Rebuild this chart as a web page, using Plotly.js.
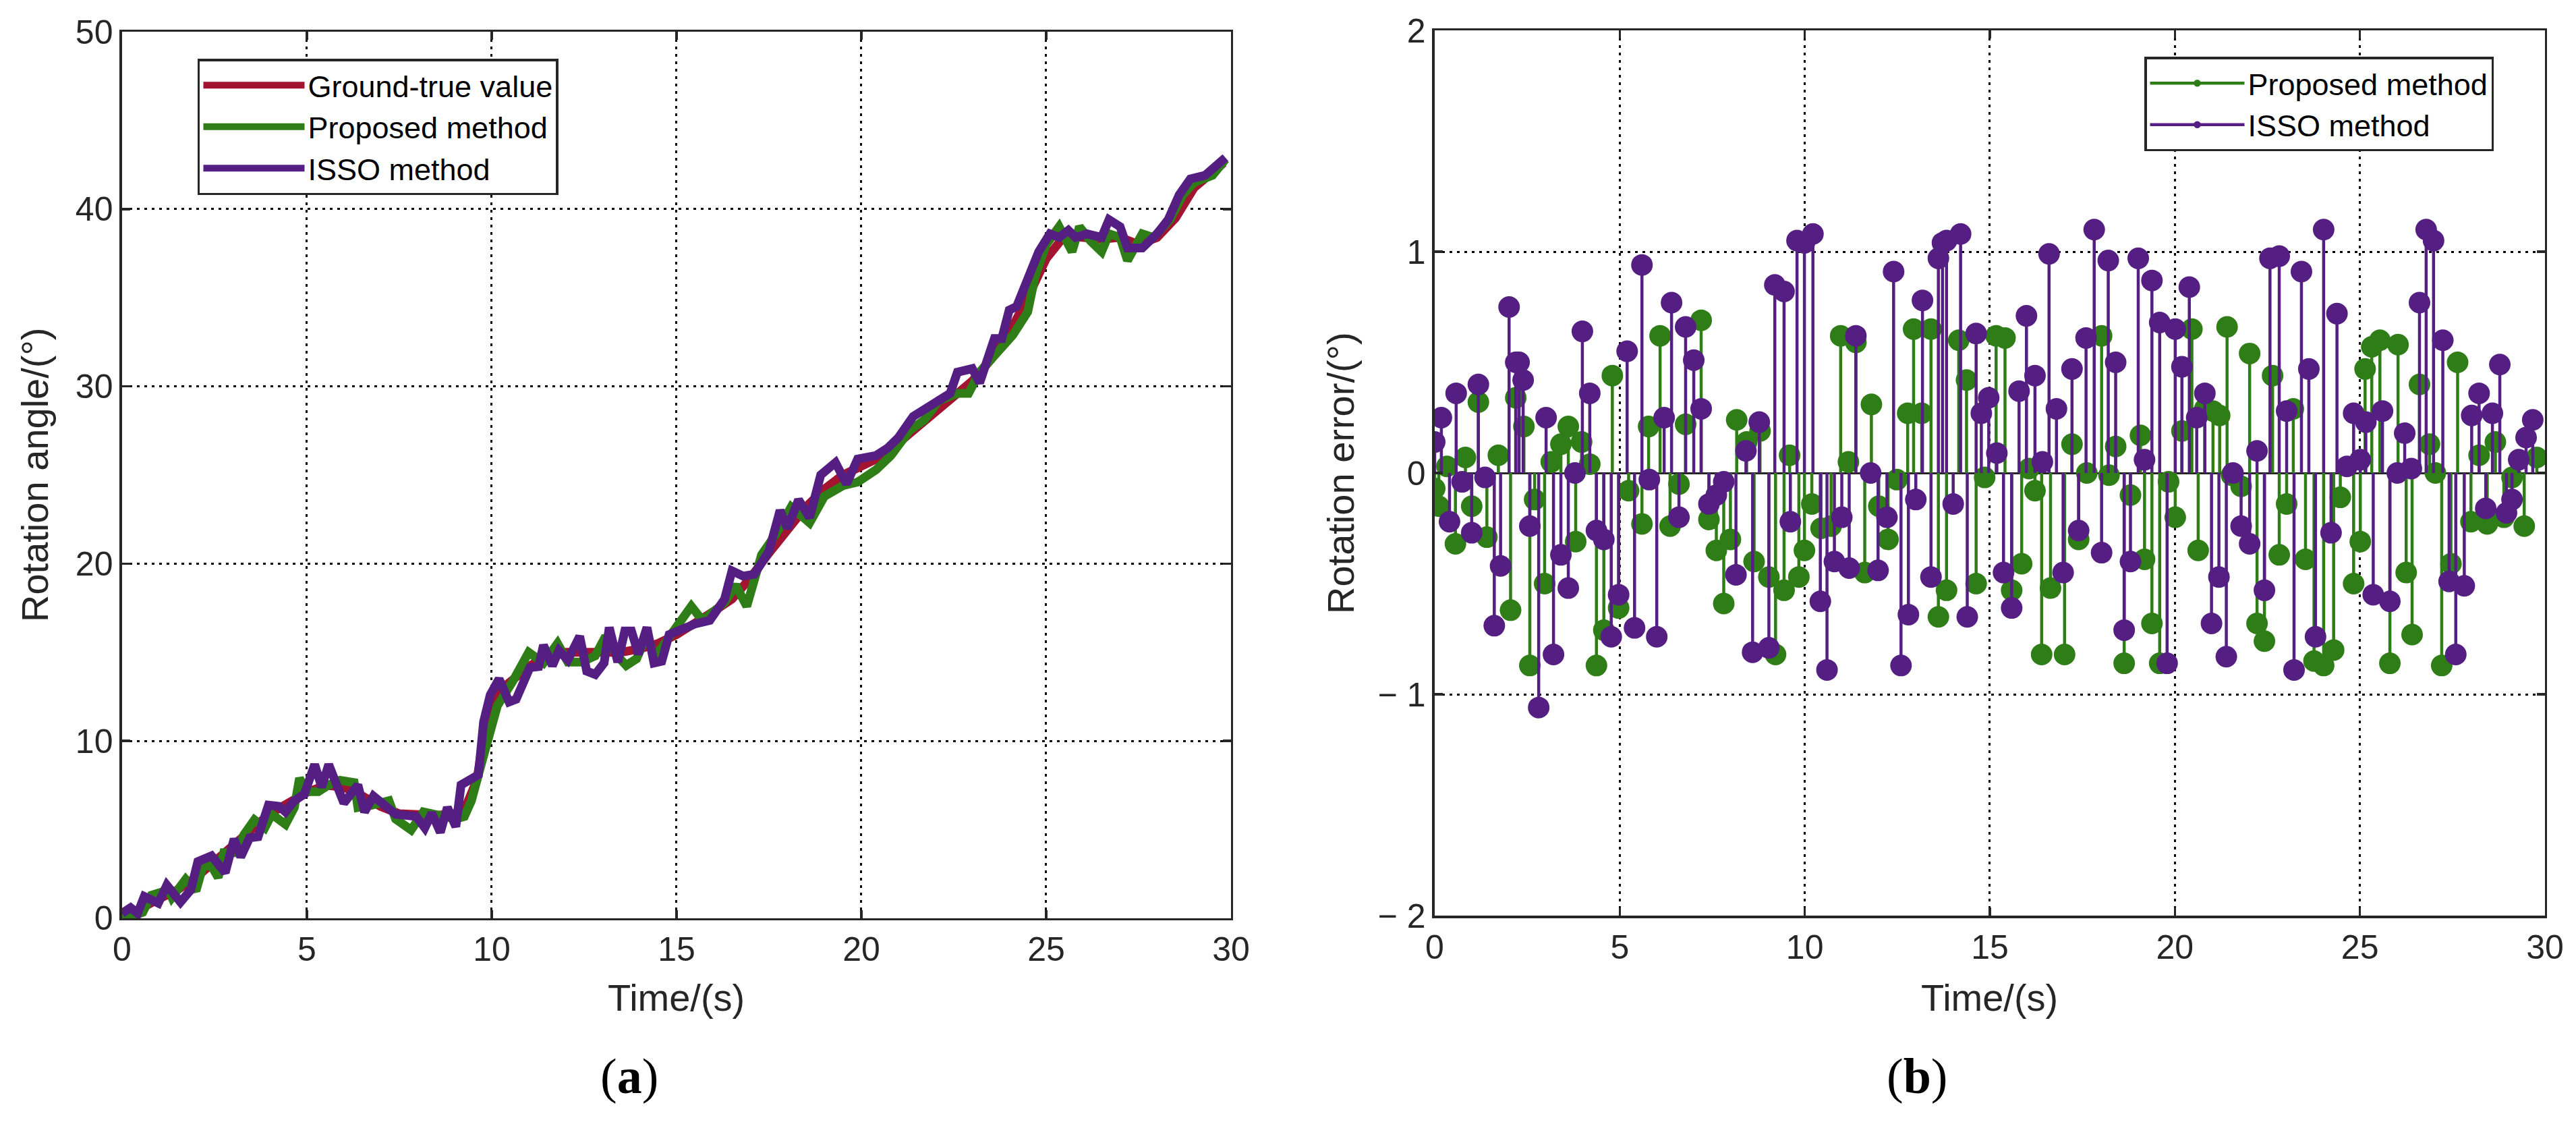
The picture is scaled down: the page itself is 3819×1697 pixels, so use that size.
<!DOCTYPE html>
<html>
<head>
<meta charset="utf-8">
<script src="https://cdn.plot.ly/plotly-3.0.1.min.js"></script>
<style>
  html, body { margin: 0; padding: 0; background: #fff; }
  #chart { width: 3819px; height: 1697px; }
</style>
</head>
<body>
<div id="chart"></div>
<script>
// (a) rotation angle
var gtTime = [0, 0.5, 1, 1.5, 2, 2.5, 3, 3.5, 4, 4.5, 5, 5.5, 6, 6.5, 7, 7.5, 8, 8.5, 9, 9.3, 9.6, 9.8, 10, 10.3, 10.6, 11, 11.5, 12, 12.5, 13, 13.5, 14, 14.5, 15, 15.5, 16, 16.5, 17, 17.5, 18, 18.5, 19, 19.5, 20, 20.5, 21, 21.5, 22, 22.5, 23, 23.5, 24, 24.5, 25, 25.5, 26, 26.5, 27, 27.5, 28, 28.5, 29, 29.5, 29.8];
var gtAngle = [0, 0.6, 1.1, 1.6, 2.3, 3.2, 4.1, 5.0, 5.9, 6.5, 7.1, 7.5, 7.4, 6.9, 6.3, 5.9, 5.8, 5.8, 5.9, 6.3, 7.8, 10.5, 12.3, 13.0, 13.5, 14.2, 14.8, 15.0, 15.0, 15.0, 15.0, 15.2, 15.5, 16.0, 16.6, 17.3, 18.0, 19.2, 20.6, 22.0, 23.2, 24.2, 25.0, 25.5, 26.0, 26.8, 27.7, 28.6, 29.4, 30.3, 31.5, 33.0, 35.0, 37.2, 38.5, 38.4, 38.3, 38.4, 38.0, 38.4, 39.5, 41.2, 42.0, 42.6];

var propTime = [0, 0.14, 0.56, 0.79, 1.26, 1.35, 1.72, 2.0, 2.19, 2.42, 2.6, 2.75, 3.07, 3.3, 3.58, 3.86, 4.05, 4.42, 4.66, 4.8, 4.98, 5.31, 5.59, 5.9, 6.28, 6.38, 6.75, 7.22, 7.4, 7.82, 8.15, 8.61, 9.03, 9.26, 9.45, 9.73, 10.0, 10.15, 10.57, 11.0, 11.4, 11.78, 12.06, 12.43, 12.8, 13.08, 13.41, 13.64, 13.92, 14.2, 14.4, 15.05, 15.4, 15.7, 16.3, 16.6, 16.9, 17.3, 17.7, 18.1, 18.6, 19.0, 19.5, 19.9, 20.4, 20.8, 21.3, 21.7, 22.1, 22.6, 22.9, 23.2, 23.7, 24.1, 24.5, 24.7, 25.0, 25.35, 25.7, 25.9, 26.2, 26.5, 26.7, 27.0, 27.2, 27.6, 27.9, 28.35, 28.7, 29.0, 29.5, 29.85];
var propAngle = [0, 0.0, 0.34, 1.3, 1.6, 1.17, 2.2, 1.55, 2.95, 2.95, 2.3, 3.7, 3.7, 4.73, 5.55, 5.1, 5.87, 5.3, 6.25, 7.9, 7.14, 7.14, 7.52, 7.78, 7.65, 6.25, 6.38, 6.63, 5.6, 4.98, 6.0, 5.74, 5.6, 5.74, 6.63, 8.79, 10.95, 11.97, 13.37, 15.0, 14.4, 15.5, 14.45, 14.45, 14.8, 15.9, 14.77, 14.26, 14.64, 16.0, 14.7, 16.6, 17.6, 16.8, 17.8, 18.8, 17.6, 20.5, 21.7, 23.2, 22.3, 23.8, 24.4, 24.6, 25.3, 26.1, 27.5, 28.1, 29.2, 29.6, 29.6, 30.8, 31.9, 32.9, 34.2, 36.2, 38.0, 39.0, 37.6, 39.0, 38.2, 37.6, 38.6, 38.4, 37.1, 38.6, 38.4, 39.4, 40.8, 41.5, 41.9, 42.8];

var issoTime = [0, 0.23, 0.42, 0.6, 0.98, 1.21, 1.58, 1.86, 2.05, 2.42, 2.79, 3.03, 3.21, 3.45, 3.68, 3.96, 4.24, 4.42, 4.66, 4.93, 5.21, 5.4, 5.59, 6.0, 6.38, 6.56, 6.8, 7.4, 7.96, 8.19, 8.38, 8.61, 8.8, 9.03, 9.17, 9.64, 9.78, 9.96, 10.2, 10.47, 10.66, 10.9, 11.03, 11.27, 11.4, 11.64, 11.82, 12.06, 12.38, 12.57, 12.8, 13.04, 13.18, 13.41, 13.6, 13.78, 13.97, 14.2, 14.39, 14.6, 14.8, 15.5, 15.9, 16.3, 16.5, 16.8, 17.1, 17.5, 17.8, 18.0, 18.3, 18.6, 18.9, 19.3, 19.6, 19.9, 20.4, 20.7, 21.0, 21.4, 21.9, 22.4, 22.6, 23.0, 23.2, 23.6, 23.8, 24.0, 24.2, 24.5, 24.8, 25.1, 25.35, 25.6, 25.8, 26.1, 26.5, 26.7, 27.0, 27.2, 27.6, 28.0, 28.3, 28.6, 28.9, 29.3, 29.6, 29.85];
var issoAngle = [0.28, 0.6, 0.28, 1.23, 0.85, 1.87, 0.91, 1.61, 3.2, 3.52, 2.57, 4.47, 3.46, 4.54, 4.6, 6.38, 6.32, 6.0, 6.63, 7.0, 8.67, 7.4, 8.67, 6.5, 7.52, 6.0, 6.89, 5.87, 5.74, 5.1, 5.93, 4.85, 6.25, 5.17, 7.52, 8.09, 11.08, 12.6, 13.5, 12.2, 12.35, 13.37, 14.13, 14.2, 15.4, 14.25, 15.1, 14.57, 15.9, 13.94, 13.75, 14.4, 16.4, 14.45, 16.2, 16.2, 14.9, 16.4, 14.4, 14.5, 16.0, 16.6, 16.8, 18.0, 19.6, 19.3, 19.4, 20.7, 23.0, 22.0, 23.6, 22.6, 25.0, 25.7, 24.5, 25.9, 26.1, 26.5, 27.1, 28.3, 29.0, 29.6, 30.8, 31.0, 30.2, 32.7, 32.7, 34.3, 34.5, 36.0, 37.6, 38.6, 38.4, 38.8, 38.4, 38.6, 38.4, 39.4, 39.0, 37.8, 37.8, 38.6, 39.4, 40.8, 41.7, 41.9, 42.5, 42.9];

// (b) rotation error stems
var propErrTime = [0.0, 0.11, 0.33, 0.56, 0.83, 1.0, 1.18, 1.41, 1.72, 2.05, 2.19, 2.41, 2.57, 2.7, 2.97, 3.15, 3.41, 3.61, 3.81, 3.97, 4.19, 4.37, 4.57, 4.80, 4.97, 5.24, 5.6, 5.78, 6.09, 6.36, 6.6, 6.78, 7.2, 7.41, 7.61, 7.81, 7.99, 8.16, 8.43, 8.63, 8.79, 9.03, 9.21, 9.44, 9.59, 9.84, 9.99, 10.19, 10.44, 10.71, 10.97, 11.18, 11.38, 11.62, 11.8, 12.0, 12.25, 12.49, 12.78, 12.94, 13.16, 13.41, 13.61, 13.83, 14.16, 14.37, 14.63, 14.86, 15.17, 15.41, 15.59, 15.86, 16.06, 16.22, 16.4, 16.64, 17.02, 17.22, 17.4, 17.62, 18.02, 18.22, 18.4, 18.63, 18.8, 19.07, 19.18, 19.38, 19.59, 19.83, 20.01, 20.19, 20.46, 20.63, 20.81, 21.03, 21.21, 21.41, 21.53, 21.79, 22.02, 22.22, 22.42, 22.64, 22.82, 23.02, 23.2, 23.53, 23.76, 24.02, 24.29, 24.47, 24.83, 25.01, 25.14, 25.32, 25.54, 25.81, 26.03, 26.25, 26.41, 26.61, 26.88, 27.04, 27.21, 27.46, 27.64, 28.0, 28.22, 28.44, 28.66, 28.89, 29.11, 29.44, 29.78];
var propErr = [-0.07, -0.15, 0.03, -0.32, 0.07, -0.15, 0.32, -0.29, 0.08, -0.62, 0.34, 0.21, -0.87, -0.12, -0.5, 0.05, 0.13, 0.21, -0.31, 0.14, 0.04, -0.87, -0.71, 0.44, -0.61, -0.08, -0.23, 0.21, 0.62, -0.24, -0.05, 0.22, 0.69, -0.21, -0.35, -0.59, -0.3, 0.24, 0.14, -0.4, 0.19, -0.47, -0.82, -0.53, 0.08, -0.47, -0.35, -0.14, -0.25, -0.24, 0.62, 0.05, 0.59, -0.45, 0.31, -0.15, -0.3, -0.03, 0.27, 0.65, 0.27, 0.65, -0.65, -0.53, 0.6, 0.42, -0.5, -0.02, 0.62, 0.61, -0.53, -0.41, 0.02, -0.08, -0.82, -0.52, -0.82, 0.13, -0.3, 0, 0.62, -0.01, 0.12, -0.86, -0.1, 0.17, -0.39, -0.68, -0.86, -0.04, -0.2, 0.19, 0.65, -0.35, 0.29, 0.28, 0.26, 0.66, -0.01, -0.06, 0.54, -0.68, -0.76, 0.44, -0.37, -0.14, 0.29, -0.39, -0.85, -0.87, -0.8, -0.11, -0.5, -0.31, 0.47, 0.57, 0.6, -0.86, 0.58, -0.45, -0.73, 0.4, 0.13, 0, -0.87, -0.41, 0.5, -0.22, 0.08, -0.23, 0.14, -0.2, -0.02, -0.24, 0.07];

var issoErrTime = [0.0, 0.18, 0.40, 0.58, 0.74, 1.00, 1.18, 1.36, 1.61, 1.78, 2.01, 2.19, 2.28, 2.39, 2.57, 2.81, 3.01, 3.21, 3.41, 3.61, 3.79, 3.99, 4.19, 4.37, 4.57, 4.77, 4.97, 5.20, 5.40, 5.60, 5.80, 6.00, 6.20, 6.40, 6.60, 6.78, 7.00, 7.20, 7.41, 7.61, 7.81, 8.14, 8.41, 8.59, 8.77, 9.03, 9.19, 9.44, 9.61, 9.79, 9.99, 10.22, 10.42, 10.60, 10.80, 11.00, 11.20, 11.38, 11.78, 11.98, 12.22, 12.40, 12.60, 12.80, 13.00, 13.18, 13.41, 13.61, 13.72, 13.83, 14.01, 14.21, 14.39, 14.63, 14.77, 14.97, 15.19, 15.37, 15.59, 15.79, 15.99, 16.22, 16.42, 16.60, 16.80, 16.98, 17.22, 17.40, 17.60, 17.82, 18.02, 18.20, 18.40, 18.63, 18.80, 19.01, 19.18, 19.38, 19.59, 19.79, 20.01, 20.19, 20.39, 20.59, 20.81, 20.99, 21.19, 21.39, 21.57, 21.79, 22.02, 22.22, 22.42, 22.57, 22.82, 23.02, 23.22, 23.42, 23.62, 23.80, 24.02, 24.22, 24.38, 24.65, 24.83, 25.01, 25.16, 25.36, 25.61, 25.81, 26.01, 26.21, 26.39, 26.61, 26.79, 26.99, 27.24, 27.41, 27.59, 27.82, 28.02, 28.22, 28.40, 28.58, 28.78, 28.96, 29.11, 29.29, 29.49, 29.67];
var issoErr = [0.14, 0.25, -0.22, 0.36, -0.04, -0.27, 0.4, -0.02, -0.69, -0.42, 0.75, 0.5, 0.5, 0.42, -0.24, -1.06, 0.25, -0.82, -0.37, -0.52, 0, 0.64, 0.36, -0.26, -0.3, -0.74, -0.55, 0.55, -0.7, 0.94, -0.03, -0.74, 0.25, 0.77, -0.2, 0.66, 0.51, 0.29, -0.14, -0.1, -0.04, -0.46, 0.1, -0.81, 0.23, -0.79, 0.85, 0.82, -0.22, 1.05, 1.04, 1.08, -0.58, -0.89, -0.4, -0.2, -0.43, 0.62, 0, -0.44, -0.2, 0.91, -0.87, -0.64, -0.12, 0.78, -0.47, 0.97, 1.04, 1.05, -0.14, 1.08, -0.65, 0.63, 0.27, 0.34, 0.09, -0.45, -0.61, 0.37, 0.71, 0.44, 0.05, 0.99, 0.29, -0.45, 0.47, -0.26, 0.61, 1.1, -0.36, 0.96, 0.5, -0.71, -0.4, 0.97, 0.06, 0.87, 0.68, -0.86, 0.65, 0.48, 0.84, 0.25, 0.36, -0.68, -0.47, -0.83, 0, -0.24, -0.32, 0.1, -0.53, 0.97, 0.98, 0.28, -0.89, 0.91, 0.47, -0.74, 1.1, -0.27, 0.72, 0.03, 0.27, 0.06, 0.23, -0.55, 0.28, -0.58, 0, 0.18, 0.02, 0.77, 1.1, 1.05, 0.6, -0.49, -0.82, -0.51, 0.26, 0.36, -0.16, 0.27, 0.49, -0.18, -0.12, 0.06, 0.16, 0.24];

var timeTicks = [0, 5, 10, 15, 20, 25, 30];
var angleTicks = [0, 10, 20, 30, 40, 50];
var errTickVals = [-2, -1, 0, 1, 2];
var errTickText = ["\u2212 2", "\u2212 1", "0", "1", "2"];

var RED = "#A2142F", GREEN = "#2F7D16", PURPLE = "#541E83", INK = "#262626";
var FONT = "Liberation Sans, Arial, sans-serif";
var SERIF = "Liberation Serif, Times New Roman, serif";

// stem lines: tip first, then base at zero, then a gap
function stems(t, v) {
  var xs = [], ys = [], sz = [];
  for (var i = 0; i < t.length; i++) {
    xs.push(t[i], t[i], null);
    ys.push(v[i], 0, null);
    sz.push(32, 0, 0);
  }
  return { x: xs, y: ys, size: sz };
}

var propStem = stems(propErrTime, propErr);
var issoStem = stems(issoErrTime, issoErr);

var trace1 = {
  x: gtTime, y: gtAngle, name: "Ground-true value", type: "scatter", mode: "lines",
  line: { color: RED, width: 13 }, xaxis: "x", yaxis: "y", legend: "legend"
};
var trace2 = {
  x: propTime, y: propAngle, name: "Proposed method", type: "scatter", mode: "lines",
  line: { color: GREEN, width: 13 }, xaxis: "x", yaxis: "y", legend: "legend"
};
var trace3 = {
  x: issoTime, y: issoAngle, name: "ISSO method", type: "scatter", mode: "lines",
  line: { color: PURPLE, width: 13 }, xaxis: "x", yaxis: "y", legend: "legend"
};
var trace4 = {
  x: propStem.x, y: propStem.y, name: "Proposed method", type: "scatter", mode: "lines+markers",
  line: { color: GREEN, width: 4.5 },
  marker: { color: GREEN, size: propStem.size, opacity: 1, line: { width: 0 } },
  xaxis: "x2", yaxis: "y2", legend: "legend2"
};
var trace5 = {
  x: issoStem.x, y: issoStem.y, name: "ISSO method", type: "scatter", mode: "lines+markers",
  line: { color: PURPLE, width: 4.5 },
  marker: { color: PURPLE, size: issoStem.size, opacity: 1, line: { width: 0 } },
  xaxis: "x2", yaxis: "y2", legend: "legend2"
};

var axisBase = {
  showline: true, linecolor: INK, linewidth: 3.5, mirror: "ticks",
  ticks: "inside", ticklen: 12, tickwidth: 3.5, tickcolor: INK,
  showgrid: true, gridcolor: "#000", gridwidth: 3, griddash: "4px,7px",
  zeroline: false, tickfont: { family: FONT, size: 50, color: INK }
};

var legendBase = {
  bgcolor: "#fff", bordercolor: INK, borderwidth: 3.5,
  font: { family: FONT, size: 45, color: "#000" },
  xanchor: "left", yanchor: "top", tracegroupgap: 6,
  traceorder: "normal", itemsizing: "trace"
};

var titleFont = { family: FONT, size: 56, color: INK };
var capFont = { family: SERIF, size: 74, color: "#000" };

var layout = {
  width: 3819, height: 1697,
  margin: { l: 0, r: 0, t: 0, b: 0 },
  paper_bgcolor: "#fff", plot_bgcolor: "#fff",
  showlegend: true,
  xaxis: Object.assign({}, axisBase, { domain: [0.04739, 0.47787], range: [0, 30], tickvals: timeTicks, anchor: "y" }),
  yaxis: Object.assign({}, axisBase, { domain: [0.19800, 0.97230], range: [0, 50], tickvals: angleTicks, anchor: "x" }),
  xaxis2: Object.assign({}, axisBase, { domain: [0.55695, 0.98795], range: [0, 30], tickvals: timeTicks, anchor: "y2" }),
  yaxis2: Object.assign({}, axisBase, { domain: [0.20035, 0.97348], range: [-2, 2], tickvals: errTickVals, ticktext: errTickText, anchor: "x2",
    zeroline: true, zerolinecolor: INK, zerolinewidth: 3 }),
  legend: Object.assign({}, legendBase, { x: 0.07672, y: 0.94873, itemwidth: 150 }),
  legend2: Object.assign({}, legendBase, { x: 0.83242, y: 0.9505, itemwidth: 140 }),
  annotations: [
    { text: "Time/(s)", xref: "paper", yref: "paper", x: 0.26263, y: 0.12905, showarrow: false, xanchor: "center", yanchor: "middle", font: titleFont },
    { text: "Time/(s)", xref: "paper", yref: "paper", x: 0.77245, y: 0.12905, showarrow: false, xanchor: "center", yanchor: "middle", font: titleFont },
    { text: "Rotation angle/(\u00b0)", xref: "paper", yref: "paper", x: 0.01335, y: 0.58515, textangle: -90, showarrow: false, xanchor: "center", yanchor: "middle", font: titleFont },
    { text: "Rotation error/(\u00b0)", xref: "paper", yref: "paper", x: 0.52055, y: 0.58692, textangle: -90, showarrow: false, xanchor: "center", yanchor: "middle", font: titleFont },
    { text: "(<b>a</b>)", xref: "paper", yref: "paper", x: 0.2443, y: 0.0601, showarrow: false, xanchor: "center", yanchor: "middle", font: capFont },
    { text: "(<b>b</b>)", xref: "paper", yref: "paper", x: 0.74418, y: 0.0601, showarrow: false, xanchor: "center", yanchor: "middle", font: capFont }
  ]
};

var data = [trace1, trace2, trace3, trace4, trace5];

Plotly.newPlot("chart", data, layout, { staticPlot: true });
</script>
</body>
</html>
